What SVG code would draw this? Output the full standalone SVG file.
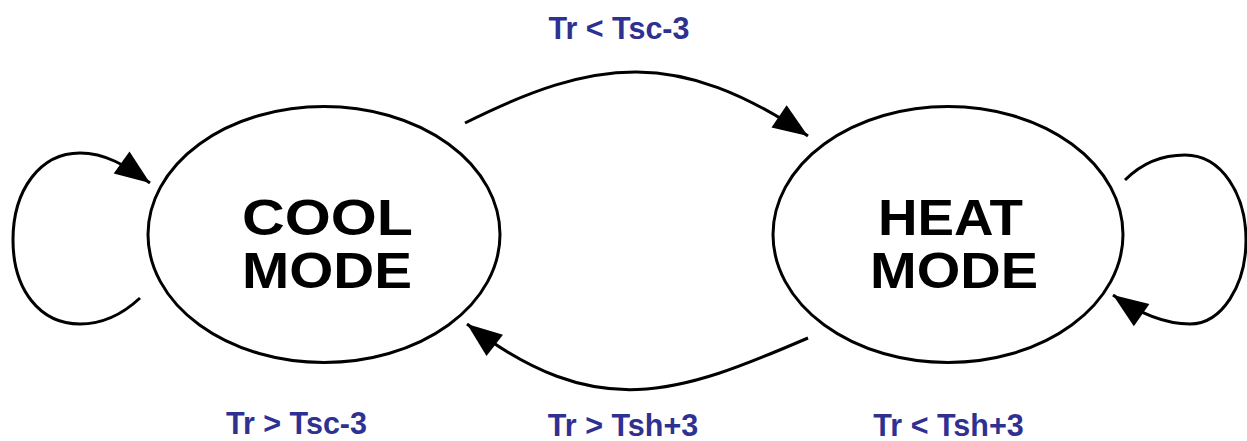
<svg xmlns="http://www.w3.org/2000/svg" width="1247" height="441" viewBox="0 0 1247 441">
<style>
.state{fill:#fff;stroke:#000;stroke-width:3}
.name{font-family:"Liberation Sans",Arial,sans-serif;font-weight:bold;font-size:50px;fill:#000;text-anchor:middle}
.edge{fill:none;stroke:#000;stroke-width:3}
.lbl{font-family:"Liberation Sans",Arial,sans-serif;font-weight:bold;font-size:30.5px;fill:#2e3192;text-anchor:middle}
</style>
<defs>
<marker id="ah" markerUnits="userSpaceOnUse" viewBox="-37 -15 38 30" markerWidth="38" markerHeight="30" refX="0" refY="0" orient="auto">
<path d="M0,0 L-35,-13.5 L-35,13.5 Z" fill="#000"/>
</marker>
</defs>
<rect width="1247" height="441" fill="#fff"/>
<g id="connectors">
<path class="edge" d="M465,123 C595,58 678,47.6 808,136" marker-end="url(#ah)"/>
<path class="edge" d="M808,338 C678,394 597,424 467,324" marker-end="url(#ah)"/>
<path class="edge" d="M140,298 C125,312 105,324 80,324 C40,324 13,290 13,240 C13,190 40,153 80,153 C105,153 125,165 150,183" marker-end="url(#ah)"/>
<path class="edge" d="M1125,180 C1140,165 1160,155 1185,155 C1222,155 1246,195 1246,240 C1246,285 1222,324 1190,324 C1165,324 1140,314 1113,295" marker-end="url(#ah)"/>
</g>
<g id="cool">
<ellipse class="state" cx="324" cy="234.5" rx="176" ry="128"/>
<text class="name" x="327.5" y="235" textLength="171" lengthAdjust="spacingAndGlyphs">COOL</text>
<text class="name" x="327" y="288" textLength="170" lengthAdjust="spacingAndGlyphs">MODE</text>
</g>
<g id="heat">
<ellipse class="state" cx="948" cy="234.5" rx="175" ry="128"/>
<text class="name" x="950.5" y="235" textLength="145" lengthAdjust="spacingAndGlyphs">HEAT</text>
<text class="name" x="954" y="288" textLength="168" lengthAdjust="spacingAndGlyphs">MODE</text>
</g>
<g id="labels">
<text class="lbl" x="619" y="39">Tr &lt; Tsc-3</text>
<text class="lbl" x="296.5" y="434">Tr &gt; Tsc-3</text>
<text class="lbl" x="623" y="436">Tr &gt; Tsh+3</text>
<text class="lbl" x="948.5" y="436">Tr &lt; Tsh+3</text>
</g>
</svg>
